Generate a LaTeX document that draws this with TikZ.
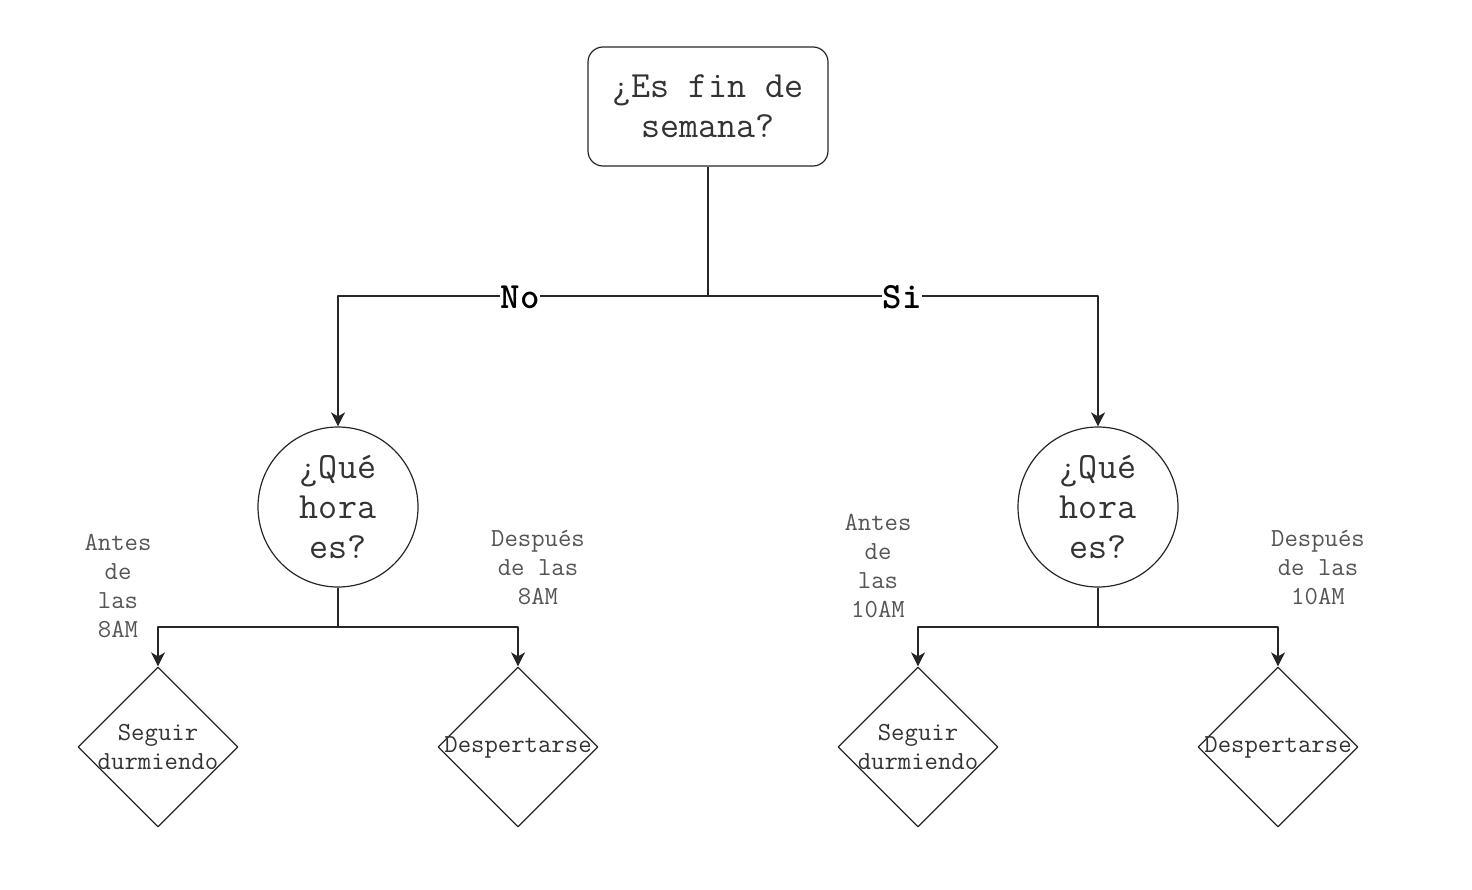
\documentclass[tikz,border=0pt]{standalone}
\usepackage{fontspec}
\usetikzlibrary{shapes.geometric,arrows.meta}
\definecolor{txtgray}{HTML}{333333}
\definecolor{lblgray}{HTML}{555555}
\begin{document}
\begin{tikzpicture}[>={Stealth[length=14bp,width=14bp,inset=4bp]},line join=bevel,
  question/.style={draw=black!85,line width=1.2bp,text=txtgray,align=center,font=\ttfamily\fontsize{37bp}{40bp}\selectfont},
  decision/.style={diamond,draw=black!85,line width=1.2bp,minimum width=160bp,minimum height=160bp,inner sep=0pt,aspect=1},
  branch/.style={text=lblgray,align=center,font=\ttfamily\fontsize{26bp}{29bp}\selectfont},
  answer/.style={fill=white,inner sep=1bp,text=black,font=\ttfamily\fontsize{37bp}{40bp}\bfseries},
  link/.style={black!85,line width=1.8bp}]
\useasboundingbox (0bp,0bp) rectangle (1472bp,-890bp);
%%
\node (node_0) at (708bp,-106.5bp) [question,rounded corners=15bp,minimum width=240bp,minimum height=119bp] {¿Es fin de\\semana?};
  \node (node_1) at (338bp,-507bp) [question,circle,minimum size=160bp,inner sep=0pt] {¿Qué\\hora\\es?};
  \node (node_2) at (1098bp,-507bp) [question,circle,minimum size=160bp,inner sep=0pt] {¿Qué\\hora\\es?};
  \node (node_3) at (158bp,-747bp) [decision,label={[branch,text=txtgray]center:Seguir\\durmiendo}] {};
  \node (node_4) at (518bp,-747bp) [decision,label={[branch,text=txtgray]center:Despertarse}] {};
  \node (node_5) at (918bp,-747bp) [decision,label={[branch,text=txtgray]center:Seguir\\durmiendo}] {};
  \node (node_6) at (1278bp,-747bp) [decision,label={[branch,text=txtgray]center:Despertarse}] {};
  \coordinate (junc_0) at (708bp,-296bp);
  \coordinate (junc_1) at (338bp,-627bp);
  \coordinate (junc_2) at (1098bp,-627bp);
%
  \draw [link] (node_0) -- (junc_0);
  \draw [link,->] (junc_0) -| (node_1);
  \draw [link,->] (junc_0) -| (node_2);
  \draw [link] (node_1) -- (junc_1);
  \draw [link,->] (junc_1) -| (node_3);
  \draw [link,->] (junc_1) -| (node_4);
  \draw [link] (node_2) -- (junc_2);
  \draw [link,->] (junc_2) -| (node_5);
  \draw [link,->] (junc_2) -| (node_6);
%
  \node (lbl_no) at (520bp,-297bp) [answer] {No};
  \node (lbl_si) at (902bp,-297bp) [answer] {Si};
  \node (lbl_0) at (118bp,-586bp) [branch] {Antes\\de\\las\\8AM};
  \node (lbl_1) at (538bp,-568bp) [branch] {Después\\de las\\8AM};
  \node (lbl_2) at (878bp,-566bp) [branch] {Antes\\de\\las\\10AM};
  \node (lbl_3) at (1318bp,-568bp) [branch] {Después\\de las\\10AM};
%
\end{tikzpicture}
\end{document}
